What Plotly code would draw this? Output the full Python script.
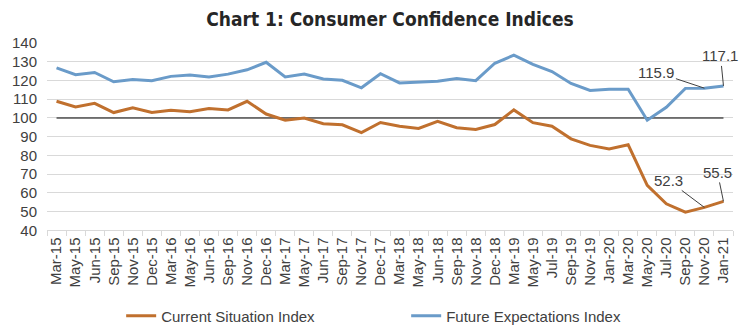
import plotly.graph_objects as go

months = ["Mar-15","May-15","Jun-15","Sep-15","Nov-15","Dec-15","Mar-16","May-16","Jun-16","Sep-16",
          "Nov-16","Dec-16","Mar-17","May-17","Jun-17","Sep-17","Nov-17","Dec-17","Mar-18","May-18",
          "Jun-18","Sep-18","Nov-18","Dec-18","Mar-19","May-19","Jul-19","Sep-19","Nov-19","Jan-20",
          "Mar-20","May-20","Jul-20","Sep-20","Nov-20","Jan-21"]

current_situation = [108.9, 105.9, 107.8, 102.9, 105.5, 102.9, 104.1, 103.3, 105.0, 104.3,
                     108.9, 102.1, 98.8, 100.0, 96.9, 96.4, 92.2, 97.6, 95.6, 94.4,
                     98.2, 94.8, 93.9, 96.5, 104.3, 97.5, 95.6, 88.9, 85.4, 83.5,
                     85.7, 64.1, 54.2, 49.8, 52.3, 55.5]

future_expectations = [126.7, 123.1, 124.3, 119.3, 120.5, 119.9, 122.2, 122.9, 121.9, 123.4,
                       125.7, 129.7, 121.9, 123.4, 120.8, 120.1, 116.1, 123.6, 118.7, 119.3,
                       119.6, 121.0, 119.9, 129.2, 133.5, 128.6, 124.8, 118.4, 114.7, 115.3,
                       115.3, 98.8, 105.7, 115.8, 115.9, 117.1]

reference_level = [100] * len(months)

fig = go.Figure()
fig.add_trace(go.Scatter(x=months, y=reference_level, mode="lines",
                         line=dict(color="#000000", width=1.2), showlegend=False, hoverinfo="skip"))
fig.add_trace(go.Scatter(x=months, y=current_situation, mode="lines", name="Current Situation Index",
                         line=dict(color="#C0702E", width=3)))
fig.add_trace(go.Scatter(x=months, y=future_expectations, mode="lines", name="Future Expectations Index",
                         line=dict(color="#6A9BC9", width=3)))

afont = dict(family="Liberation Sans, Arial, sans-serif", size=15, color="#404040")
notes = [
    (months[34], future_expectations[34], "115.9", -48, -16),
    (months[35], future_expectations[35], "117.1", -3, -30),
    (months[34], current_situation[34], "52.3", -36, -27),
    (months[35], current_situation[35], "55.5", -6, -29),
]
for xv, yv, txt, ax, ay in notes:
    fig.add_annotation(x=xv, y=yv, text=txt, showarrow=True, arrowhead=0, arrowwidth=1,
                       arrowcolor="#404040", ax=ax, ay=ay, font=afont, standoff=0)

fig.update_layout(
    width=748, height=332,
    margin=dict(l=43, r=15, t=43, b=97),
    paper_bgcolor="white", plot_bgcolor="white",
    title=dict(text="<b>Chart 1: Consumer Confidence Indices</b>", x=0.5, xref="paper",
               xanchor="center", y=1 - 19 / 332, yanchor="middle",
               font=dict(family="Liberation Sans Narrow, Arial Narrow, DejaVu Sans Condensed, sans-serif",
                         size=19, color="#262626")),
    showlegend=True,
    legend=dict(orientation="h", xref="container", yref="container", x=0.543, xanchor="center",
                y=16 / 332, yanchor="middle",
                font=dict(family="Liberation Sans, Arial, sans-serif", size=15, color="#404040"),
                itemwidth=30, traceorder="normal", entrywidth=240, entrywidthmode="pixels"),
    font=dict(family="Liberation Sans, Arial, sans-serif", color="#404040"),
)
fig.update_xaxes(type="category", tickangle=-90, tickfont=dict(size=15, color="#404040"),
                 showgrid=False, showline=True, linecolor="#D9D9D9", linewidth=1,
                 ticks="outside", tickson="boundaries", ticklen=5, tickcolor="#D9D9D9",
                 range=[-0.5, len(months) - 0.5])
fig.update_yaxes(range=[40, 140], dtick=10, tickfont=dict(size=15, color="#404040"),
                 showgrid=True, gridcolor="#D9D9D9", gridwidth=1, zeroline=False,
                 showline=False, ticks="", ticklabelstandoff=9)

fig.write_html("out.html")
